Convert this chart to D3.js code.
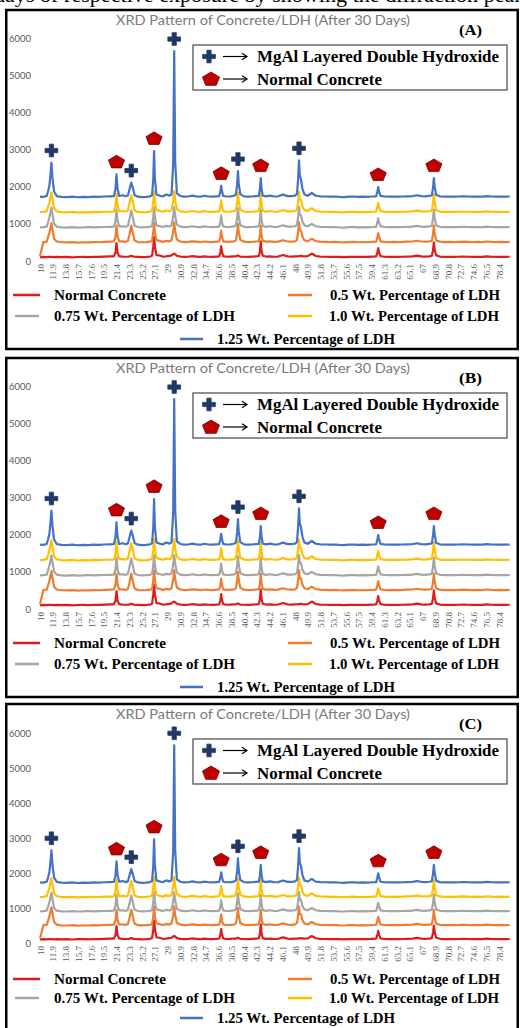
<!DOCTYPE html>
<html>
<head>
<meta charset="utf-8">
<script src="https://cdn.jsdelivr.net/npm/d3@7"></script>
<style>
  html, body { margin: 0; padding: 0; background: #fff; }
  svg { display: block; }
</style>
</head>
<body>
<svg id="fig" width="520" height="1028"></svg>
<script>
// ---- Diffraction data: 2θ (degrees) and intensity (counts, stacked offsets as plotted) ----
const twoTheta = [
  10.0, 10.5, 11.0, 11.2, 11.4, 11.55, 11.7, 11.85, 12.1, 12.5,
  13.2, 14.0, 14.8, 15.6, 16.4, 17.2, 18.0, 18.8, 19.6, 20.4,
  21.0, 21.25, 21.4, 21.55, 21.8,
  22.3, 22.8,
  23.1, 23.35, 23.6, 23.85, 24.1,
  24.6, 25.2, 25.8, 26.4,
  26.7, 26.88, 27.0, 27.12, 27.35,
  27.8, 28.3, 28.8, 29.3,
  29.6, 29.85, 30.0, 30.15, 30.4,
  30.9, 31.5, 32.1, 32.7, 33.3, 33.9, 34.5, 35.1, 35.7, 36.3,
  36.7, 36.88, 37.0, 37.12, 37.3,
  37.8, 38.4, 38.9,
  39.2, 39.38, 39.5, 39.62, 39.85,
  40.4, 41.0, 41.6, 42.2,
  42.6, 42.78, 42.9, 43.02, 43.2,
  43.7, 44.3, 44.9, 45.5, 46.2, 46.9, 47.5, 48.0,
  48.3, 48.48, 48.6, 48.72, 48.9, 49.1, 49.4,
  49.9, 50.5, 51.1, 51.8, 52.5, 53.2, 53.9, 54.6, 55.3, 56.0, 56.7, 57.4, 58.1, 58.8, 59.5,
  60.1, 60.28, 60.4, 60.52, 60.75,
  61.3, 62.0, 62.7, 63.4, 64.1, 64.8, 65.5, 66.2, 66.8, 67.4, 68.0,
  68.4, 68.58, 68.7, 68.82, 69.05,
  69.6, 70.3, 71.0, 71.7, 72.4, 73.1, 73.8, 74.5, 75.2, 75.9, 76.6, 77.3, 78.0, 78.7, 79.4, 80.0
];

const normalConcrete = [
  100, 110, 105, 110, 115, 110, 108, 112, 105, 110,
  105, 110, 100, 108, 112, 105, 115, 110, 120, 125,
  125, 220, 480, 230, 130,
  120, 115,
  115, 125, 140, 125, 115,
  110, 105, 110, 120,
  140, 380, 640, 400, 160,
  150, 120, 125, 140,
  150, 185, 200, 180, 140,
  120, 110, 115, 130, 120, 110, 125, 115, 110, 120,
  125, 230, 400, 240, 130,
  115, 120, 125,
  125, 140, 150, 135, 120,
  115, 110, 120, 125,
  130, 260, 530, 270, 140,
  120, 125, 115, 120, 160, 125, 120, 125,
  125, 130, 135, 130, 140, 130, 125,
  130, 200, 135, 120, 115, 110, 115, 110, 105, 110, 115, 110, 115, 110, 120,
  125, 230, 350, 240, 130,
  115, 110, 115, 110, 115, 120, 125, 145, 125, 120, 125,
  140, 300, 500, 310, 150,
  120, 110, 115, 110, 115, 120, 115, 110, 115, 110, 125, 115, 110, 115, 110, 115
];

const ldh050 = [
  130, 510, 520, 640, 760, 880, 1020, 860, 600, 525,
  505, 500, 510, 495, 505, 500, 510, 505, 515, 520,
  525, 650, 950, 660, 530,
  530, 515,
  540, 720, 950, 740, 550,
  510, 505, 510, 520,
  540, 760, 1040, 780, 560,
  540, 515, 540, 530,
  560, 780, 1040, 800, 580,
  525, 510, 515, 530, 520, 510, 525, 515, 510, 520,
  525, 640, 820, 650, 530,
  515, 520, 525,
  560, 760, 1000, 780, 570,
  520, 510, 515, 525,
  530, 680, 950, 690, 540,
  520, 530, 515, 520, 560, 525, 520, 530,
  570, 800, 1050, 830, 820, 660, 560,
  530, 600, 535, 520, 515, 510, 515, 505, 500, 510, 515, 505, 510, 505, 515,
  520, 640, 750, 650, 530,
  515, 510, 515, 510, 515, 520, 525, 545, 525, 520, 525,
  540, 730, 950, 740, 550,
  520, 510, 515, 510, 515, 520, 515, 510, 515, 510, 525, 515, 510, 515, 510, 515
];

const ldh075 = [
  905, 910, 925, 1040, 1170, 1300, 1440, 1270, 1000, 925,
  905, 900, 910, 900, 905, 915, 905, 910, 915, 920,
  925, 1060, 1380, 1070, 930,
  935, 920,
  940, 1140, 1360, 1160, 950,
  915, 905, 910, 920,
  940, 1170, 1450, 1190, 960,
  940, 915, 945, 930,
  960, 1190, 1450, 1210, 980,
  925, 910, 915, 935, 920, 910, 930, 915, 910, 920,
  925, 1040, 1220, 1050, 930,
  915, 920, 930,
  960, 1170, 1420, 1190, 970,
  920, 910, 915, 925,
  930, 1090, 1380, 1100, 940,
  920, 935, 915, 920, 960, 925, 925, 935,
  970, 1210, 1460, 1240, 1230, 1060, 960,
  935, 1000, 935, 920, 915, 910, 915, 905, 900, 910, 915, 905, 910, 905, 915,
  920, 1040, 1150, 1050, 930,
  915, 910, 915, 910, 915, 920, 925, 945, 925, 920, 930,
  945, 1150, 1380, 1160, 955,
  920, 910, 915, 910, 915, 920, 915, 910, 915, 910, 925, 915, 910, 915, 910, 915
];

const ldh100 = [
  1315, 1320, 1340, 1450, 1580, 1710, 1850, 1680, 1420, 1335,
  1315, 1310, 1320, 1305, 1315, 1310, 1320, 1315, 1325, 1325,
  1330, 1480, 1810, 1490, 1340,
  1345, 1330,
  1350, 1560, 1770, 1580, 1360,
  1320, 1310, 1315, 1330,
  1350, 1590, 1880, 1610, 1370,
  1350, 1325, 1360, 1340,
  1370, 1610, 1880, 1630, 1400,
  1335, 1320, 1325, 1345, 1330, 1320, 1340, 1325, 1320, 1330,
  1335, 1450, 1630, 1460, 1340,
  1325, 1330, 1340,
  1370, 1590, 1840, 1610, 1380,
  1330, 1320, 1325, 1335,
  1340, 1510, 1810, 1520, 1350,
  1330, 1345, 1325, 1330, 1370, 1335, 1335, 1345,
  1380, 1620, 1870, 1650, 1640, 1470, 1370,
  1345, 1420, 1345, 1330, 1325, 1320, 1325, 1315, 1310, 1320, 1325, 1315, 1320, 1315, 1325,
  1330, 1450, 1560, 1460, 1340,
  1325, 1320, 1325, 1320, 1325, 1330, 1335, 1355, 1335, 1330, 1340,
  1355, 1570, 1800, 1580, 1365,
  1330, 1320, 1325, 1320, 1325, 1330, 1325, 1320, 1325, 1320, 1335, 1325, 1320, 1325, 1320, 1325
];

const ldh125 = [
  1730, 1725, 1750, 1870, 2030, 2300, 2650, 2250, 1870, 1745,
  1725, 1720, 1730, 1715, 1725, 1720, 1730, 1725, 1735, 1740,
  1745, 1930, 2330, 1950, 1750,
  1770, 1740,
  1760, 1940, 2110, 1960, 1770,
  1730, 1720, 1725, 1740,
  1770, 2200, 2960, 2220, 1790,
  1760, 1735, 1790, 1760,
  1790, 2600, 5650, 2650, 1820,
  1750, 1730, 1735, 1760, 1740, 1730, 1755, 1735, 1730, 1740,
  1745, 1870, 2020, 1880, 1750,
  1735, 1740, 1755,
  1790, 2060, 2420, 2080, 1800,
  1740, 1730, 1735, 1745,
  1750, 1930, 2230, 1940, 1760,
  1740, 1760, 1735, 1740, 1785, 1745, 1745, 1760,
  1800, 2250, 2710, 2300, 2200, 1950, 1790,
  1755, 1830, 1755, 1740, 1735, 1730, 1735, 1725, 1720, 1730, 1735, 1725, 1730, 1725, 1735,
  1740, 1870, 1990, 1880, 1750,
  1735, 1730, 1735, 1730, 1735, 1740, 1745, 1770, 1745, 1740, 1750,
  1765, 1990, 2230, 2000, 1775,
  1740, 1730, 1735, 1730, 1735, 1740, 1735, 1730, 1735, 1730, 1745, 1735, 1730, 1735, 1730, 1735
];

const seriesNames = [
  "Normal Concrete",
  "0.5 Wt. Percentage of LDH",
  "0.75 Wt. Percentage of LDH",
  "1.0 Wt. Percentage of LDH",
  "1.25 Wt. Percentage of LDH"
];
const seriesValues = [normalConcrete, ldh050, ldh075, ldh100, ldh125];
const seriesColors = ["#e01b1b", "#ed7d31", "#a5a5a5", "#ffc000", "#4472c4"];

const xTickLabels = ["10", "11.9", "13.8", "15.7", "17.6", "19.5", "21.4", "23.3", "25.2", "27.1",
  "29", "30.9", "32.8", "34.7", "36.6", "38.5", "40.4", "42.3", "44.2", "46.1", "48", "49.9",
  "51.8", "53.7", "55.6", "57.5", "59.4", "61.3", "63.2", "65.1", "67", "68.9", "70.8", "72.7",
  "74.6", "76.5", "78.4"];
const yTickValues = [0, 1000, 2000, 3000, 4000, 5000, 6000];

// Peak assignments (2θ positions of the annotated reflections)
const ldhPeakAngles = [11.7, 23.6, 30.0, 39.5, 48.6];
const concretePeakAngles = [21.4, 27.0, 37.0, 42.9, 60.4, 68.7];

const chartTitle = "XRD Pattern of Concrete/LDH (After 30 Days)";
const markerLegendLabels = ["MgAl Layered Double Hydroxide", "Normal Concrete"];
const panelLabels = ["(A)", "(B)", "(C)"];
const captionFragment = "days of respective exposure by showing the diffraction peaks";

// ---- Layout ----
const SERIF = "'Liberation Serif', 'Times New Roman', serif";
const SANS = "Lato, 'Open Sans', 'Liberation Sans', sans-serif";
const svg = d3.select("#fig");
svg.append("rect").attr("width", 520).attr("height", 1028).attr("fill", "#fff");

const x = d3.scaleLinear().domain([10, 80]).range([40, 509.7]);

const panels = [
  { label: panelLabels[0], top: 0,   frameH: 339, yRange: [261, 38], tickTop: 264, legendY: [295, 316, 339] },
  { label: panelLabels[1], top: 348, frameH: 339, yRange: [261, 38], tickTop: 264, legendY: [295, 316, 339] },
  { label: panelLabels[2], top: 694, frameH: 345, yRange: [249, 39], tickTop: 252, legendY: [285, 304, 324] }
];

// Caption line of the page above, cut by the top edge
svg.append("text")
  .attr("x", -6).attr("y", 2)
  .attr("font-family", SERIF).attr("font-size", 21)
  .attr("fill", "#000")
  .attr("textLength", 540).attr("lengthAdjust", "spacingAndGlyphs")
  .text(captionFragment);

function pentagonPath(cx, cy, r, squash) {
  const pts = d3.range(5).map(k => {
    const a = -Math.PI / 2 + k * 2 * Math.PI / 5;
    return [cx + r * Math.cos(a), cy + r * squash * Math.sin(a) + r * 0.1];
  });
  return "M" + pts.map(p => p.join(",")).join("L") + "Z";
}

function drawPlus(g, cx, cy, size) {
  g.append("path")
    .attr("d", d3.symbol(d3.symbolCross, size)())
    .attr("transform", `translate(${cx},${cy})`)
    .attr("fill", "#1f3864")
    .attr("stroke", "#1f3864").attr("stroke-width", 0.8).attr("stroke-linejoin", "round");
}

function drawPentagon(g, cx, cy, r) {
  g.append("path")
    .attr("d", pentagonPath(cx, cy, r, 0.82))
    .attr("fill", "#c00000")
    .attr("stroke", "#7a0000").attr("stroke-width", 0.8).attr("stroke-linejoin", "round");
}

function drawArrow(g, x0, x1, yy) {
  g.append("line").attr("x1", x0).attr("x2", x1).attr("y1", yy).attr("y2", yy)
    .attr("stroke", "#000").attr("stroke-width", 1.2);
  g.append("path").attr("d", `M${x1 - 5},${yy - 3.2}L${x1},${yy}L${x1 - 5},${yy + 3.2}`)
    .attr("fill", "none").attr("stroke", "#000").attr("stroke-width", 1.2);
}

function drawPanel(p) {
  const g = svg.append("g").attr("transform", `translate(0,${p.top})`);
  const y = d3.scaleLinear().domain([0, 6000]).range(p.yRange);

  // frame
  g.append("rect")
    .attr("x", 6.25).attr("y", 10).attr("width", 511.5).attr("height", p.frameH)
    .attr("fill", "#fff").attr("stroke", "#000").attr("stroke-width", 2.5);

  // title
  g.append("text")
    .attr("x", 263).attr("y", 24.5).attr("text-anchor", "middle")
    .attr("font-family", SANS).attr("font-size", 13.5).attr("fill", "#7a7a7a")
    .attr("textLength", 294).attr("lengthAdjust", "spacingAndGlyphs")
    .text(chartTitle);

  // panel letter
  g.append("text")
    .attr("x", 459).attr("y", 35)
    .attr("font-family", SERIF).attr("font-size", 15).attr("font-weight", "bold").attr("fill", "#000")
    .attr("textLength", 23).attr("lengthAdjust", "spacingAndGlyphs")
    .text(p.label);

  // y axis (labels only)
  const ya = g.append("g").attr("transform", "translate(31,0)")
    .call(d3.axisLeft(y).tickValues(yTickValues).tickSize(0).tickPadding(0).tickFormat(d3.format("d")));
  ya.select(".domain").remove();
  ya.selectAll("text")
    .attr("font-family", SANS).attr("font-size", 9.5).attr("fill", "#595959");

  // x axis (rotated category labels)
  const xa = g.append("g").attr("transform", `translate(0,${p.tickTop})`)
    .call(d3.axisBottom(x).tickValues(xTickLabels.map(Number)).tickSize(0)
      .tickFormat((d, i) => xTickLabels[i]));
  xa.select(".domain").remove();
  xa.selectAll("text")
    .attr("transform", "rotate(-90)")
    .attr("text-anchor", "end")
    .attr("x", 0).attr("y", 0).attr("dy", "0.35em")
    .attr("font-family", SERIF).attr("font-size", 9).attr("fill", "#595959");

  // diffraction patterns
  const line = d3.line().x(d => x(d[0])).y(d => y(d[1]));
  seriesValues.forEach((vals, i) => {
    const pts = twoTheta.map((t, k) => [t, vals[k]]).filter(d => d[1] != null);
    g.append("path")
      .datum(pts)
      .attr("d", line)
      .attr("fill", "none")
      .attr("stroke", seriesColors[i])
      .attr("stroke-width", 2.2)
      .attr("stroke-linejoin", "round");
  });

  // peak annotations above the top pattern
  const top = seriesValues[seriesValues.length - 1];
  const peakValue = a => top[twoTheta.indexOf(a)];
  ldhPeakAngles.forEach(a => drawPlus(g, x(a), y(peakValue(a)) - 12, 90));
  concretePeakAngles.forEach(a => drawPentagon(g, x(a), y(peakValue(a)) - 13, 8.5));

  // marker legend
  g.append("rect")
    .attr("x", 193).attr("y", 45).attr("width", 314).attr("height", 45)
    .attr("fill", "#fff").attr("stroke", "#555").attr("stroke-width", 1.3);
  drawPlus(g, 209, 56.5, 90);
  drawArrow(g, 223, 247, 56.5);
  g.append("text").attr("x", 257).attr("y", 62)
    .attr("font-family", SERIF).attr("font-size", 16.6).attr("font-weight", "bold")
    .attr("textLength", 242).attr("lengthAdjust", "spacingAndGlyphs")
    .text(markerLegendLabels[0]);
  drawPentagon(g, 211, 78.5, 9);
  drawArrow(g, 223, 247, 79);
  g.append("text").attr("x", 257).attr("y", 84.5)
    .attr("font-family", SERIF).attr("font-size", 16.6).attr("font-weight", "bold")
    .attr("textLength", 125).attr("lengthAdjust", "spacingAndGlyphs")
    .text(markerLegendLabels[1]);

  // series legend
  const entries = [
    { i: 0, x0: 13,  x1: 40,  tx: 54,  row: 0, w: 112 },
    { i: 1, x0: 288, x1: 312, tx: 330, row: 0, w: 170 },
    { i: 2, x0: 15,  x1: 39,  tx: 54,  row: 1, w: 181 },
    { i: 3, x0: 288, x1: 312, tx: 329, row: 1, w: 170 },
    { i: 4, x0: 180, x1: 203, tx: 217, row: 2, w: 178 }
  ];
  entries.forEach(e => {
    const yy = p.legendY[e.row];
    g.append("line").attr("x1", e.x0).attr("x2", e.x1).attr("y1", yy).attr("y2", yy)
      .attr("stroke", seriesColors[e.i]).attr("stroke-width", 2.5);
    g.append("text").attr("x", e.tx).attr("y", yy + 5)
      .attr("font-family", SERIF).attr("font-size", 14.8).attr("font-weight", "bold")
      .attr("textLength", e.w).attr("lengthAdjust", "spacingAndGlyphs")
      .text(seriesNames[e.i]);
  });
}

panels.forEach(drawPanel);
</script>
</body>
</html>
